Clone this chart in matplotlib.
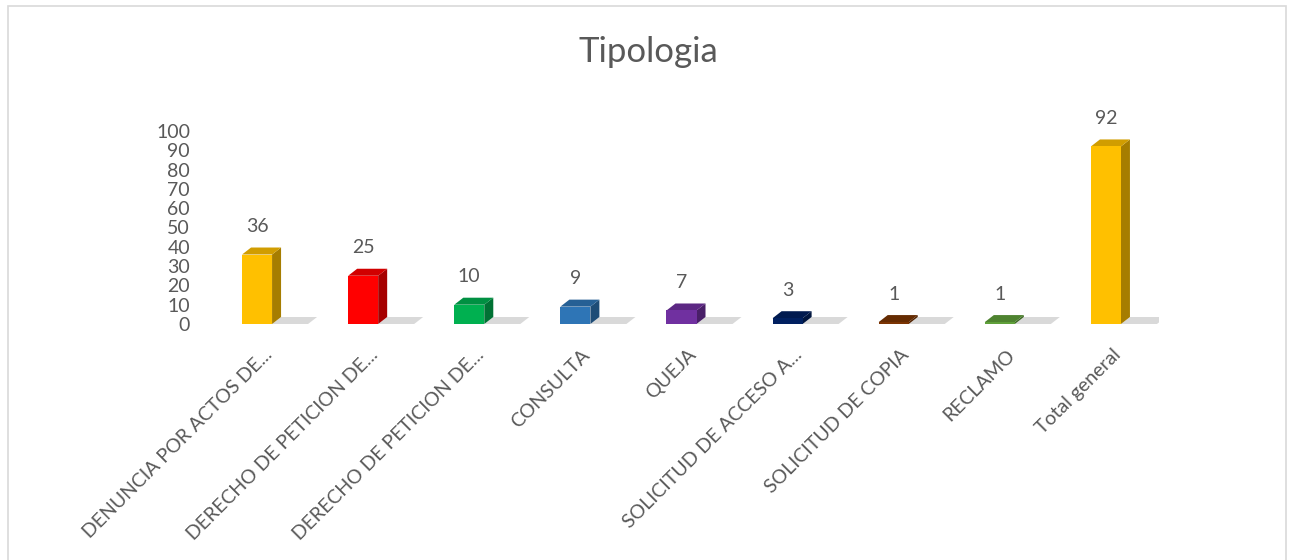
import numpy as np
import matplotlib.pyplot as plt
from matplotlib.patches import Polygon, Rectangle
from matplotlib import colors as mcolors
from matplotlib.transforms import ScaledTranslation, blended_transform_factory

plt.rcParams['font.family'] = ['Lato', 'DejaVu Sans']

categories = ["DENUNCIA POR ACTOS DE...", "DERECHO DE PETICION DE...",
              "DERECHO DE PETICION DE...", "CONSULTA", "QUEJA",
              "SOLICITUD DE ACCESO A...", "SOLICITUD DE COPIA", "RECLAMO",
              "Total general"]
values = [36, 25, 10, 9, 7, 3, 1, 1, 92]
bar_colors = ["#FFC000", "#FF0000", "#00B050", "#2E75B6", "#7030A0",
              "#002060", "#7B3403", "#5FA03A", "#FFC000"]
y_ticks = [0, 10, 20, 30, 40, 50, 60, 70, 80, 90, 100]

txt = "#595959"

fig = plt.figure(figsize=(12.9, 5.6), dpi=100)
ax = fig.add_axes([204 / 1290, 236 / 560, 955 / 1290, 193 / 560])
ax.set_xlim(-0.5, len(values) - 0.5)
ax.set_ylim(0, 100)

# px -> data units
px_x = 1.0 / 106.1
px_y = 100.0 / 193
w = 30 * px_x
dx = 9 * px_x
dy = 7 * px_y
shadow_len = 36 * px_x


def shade(c, f):
    r, g, b = mcolors.to_rgb(c)
    return (r * f, g * f, b * f)


x = np.arange(len(values))
for xi, v, c in zip(x, values, bar_colors):
    x0 = xi - w / 2
    x1 = xi + w / 2
    # floor shadow
    ax.add_patch(Polygon([(x1, 0), (x1 + shadow_len, 0),
                          (x1 + shadow_len + dx, dy), (x1 + dx, dy)],
                         closed=True, facecolor="#D9D9D9", edgecolor="none", zorder=1))
    # side face
    ax.add_patch(Polygon([(x1, 0), (x1, v), (x1 + dx, v + dy), (x1 + dx, dy)],
                         closed=True, facecolor=shade(c, 0.65), edgecolor="none", zorder=2))
    # top face
    ax.add_patch(Polygon([(x0, v), (x0 + dx, v + dy), (x1 + dx, v + dy), (x1, v)],
                         closed=True, facecolor=shade(c, 0.82), edgecolor="none", zorder=2))
ax.bar(x, values, width=w, color=bar_colors, zorder=3)

for xi, v in zip(x, values):
    ax.annotate(str(v), (xi, v), xytext=(0, 20), textcoords="offset points",
                ha="center", va="center", fontsize=14, color=txt)

ax.set_yticks(y_ticks)
ax.set_yticklabels([str(t) for t in y_ticks], fontsize=14, color=txt)
ax.tick_params(axis="y", length=0, pad=10)
ax.set_xticks([])
for s in ax.spines.values():
    s.set_visible(False)

trans = blended_transform_factory(ax.transData, ax.transAxes)
for xi, lab in zip(x, categories):
    off = ScaledTranslation(12 / 100, -28 / 100, fig.dpi_scale_trans)
    ax.text(xi, 0, lab, transform=trans + off, rotation=45, rotation_mode="anchor",
            ha="right", va="center", fontsize=14, color=txt)

fig.text(648 / 1290, 1 - 52 / 560, "Tipologia", ha="center", va="center",
         fontsize=25, color=txt)

fig.patches.append(Rectangle((8 / 1290, -0.02), 1278 / 1290, 1.02 - 6 / 560,
                             transform=fig.transFigure, fill=False,
                             edgecolor="#D9D9D9", linewidth=1.2))

fig.savefig("out.png", dpi=100)
